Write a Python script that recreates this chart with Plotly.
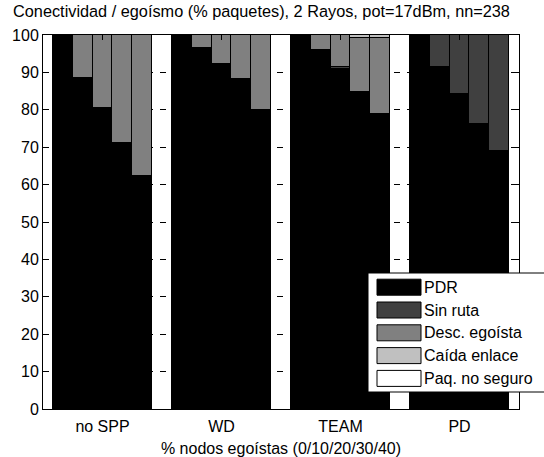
import plotly.graph_objects as go

groups = ["no SPP", "WD", "TEAM", "PD"]
levels = ["0", "10", "20", "30", "40"]
series_names = ["PDR", "Sin ruta", "Desc. egoísta", "Caída enlace", "Paq. no seguro"]
series_colors = ["#000000", "#404040", "#808080", "#c0c0c0", "#ffffff"]

pdr = [100, 88.6, 80.4, 71.1, 62.3,
       100, 96.6, 92.2, 88.2, 79.9,
       100, 95.8, 91.0, 84.7, 78.8,
       100, 91.4, 84.2, 76.2, 69.0]
sin_ruta = [0, 0, 0, 0, 0,
            0, 0, 0, 0, 0,
            0, 0.3, 0.5, 0, 0,
            0, 8.6, 15.8, 23.8, 31.0]
desc_egoista = [0, 11.4, 19.6, 28.9, 37.7,
                0, 3.4, 7.8, 11.8, 20.1,
                0, 3.9, 8.5, 14.5, 20.4,
                0, 0, 0, 0, 0]
caida_enlace = [0, 0, 0, 0, 0,
                0, 0, 0, 0, 0,
                0, 0, 0, 0.8, 0.8,
                0, 0, 0, 0, 0]
paq_no_seguro = [0, 0, 0, 0, 0,
                 0, 0, 0, 0, 0,
                 0, 0, 0, 0, 0,
                 0, 0, 0, 0, 0]

yticks = [0, 10, 20, 30, 40, 50, 60, 70, 80, 90, 100]

series = [pdr, sin_ruta, desc_egoista, caida_enlace, paq_no_seguro]

# bar positions: 5 bars per group, one empty slot between groups
xpos = [6 * g + j + 1 for g in range(len(groups)) for j in range(len(levels))]
group_centers = [6 * g + 3 for g in range(len(groups))]

FONT = "Liberation Sans, Arial, sans-serif"

fig = go.Figure()
for name, vals, col in zip(series_names, series, series_colors):
    fig.add_trace(go.Bar(
        x=xpos, y=vals, name=name, width=1,
        marker=dict(color=col, line=dict(color="black", width=1)),
        showlegend=False, hoverinfo="skip",
    ))

W, H = 544, 457
L, R, T, B = 43, 519, 35, 409

def px(x):
    return (x - L) / (R - L)

def py(y):
    return (B - y) / (B - T)

# MATLAB-style legend box (runs off the right edge, as in the reference)
shapes = [dict(type="rect", xref="paper", yref="paper",
               x0=px(368), x1=px(550), y0=py(392), y1=py(273),
               fillcolor="white", line=dict(color="black", width=1))]
annotations = []
for i, (name, col) in enumerate(zip(series_names, series_colors)):
    cy = 287.2 + 22.8 * i
    shapes.append(dict(type="rect", xref="paper", yref="paper",
                       x0=px(377), x1=px(421), y0=py(cy + 8), y1=py(cy - 8),
                       fillcolor=col, line=dict(color="black", width=1)))
    annotations.append(dict(xref="paper", yref="paper", x=px(423), y=py(cy),
                            xanchor="left", yanchor="middle", text=name,
                            showarrow=False, borderpad=0,
                            font=dict(family=FONT, size=16, color="black")))

fig.update_layout(
    width=W, height=H,
    margin=dict(l=L, r=W - R, t=T, b=H - B, pad=0, autoexpand=False),
    paper_bgcolor="white", plot_bgcolor="white",
    barmode="stack", bargap=0,
    font=dict(family=FONT, size=16, color="black"),
    title=dict(text="Conectividad / egoísmo (% paquetes), 2 Rayos, pot=17dBm, nn=238",
               xref="paper", x=px(261.5), xanchor="center",
               yref="container", y=1 - 11 / H, yanchor="middle",
               font=dict(family=FONT, size=16.3, color="black")),
    shapes=shapes,
    annotations=annotations,
    xaxis=dict(range=[0, 24], tickvals=group_centers, ticktext=groups,
               ticks="inside", ticklen=5, tickcolor="black",
               showline=True, linecolor="black", linewidth=1, mirror="ticks",
               showgrid=False, zeroline=False, ticklabelstandoff=3,
               automargin=False,
               title=dict(text="% nodos egoístas (0/10/20/30/40)", standoff=8,
                          font=dict(family=FONT, size=16, color="black")),
               tickfont=dict(family=FONT, size=16, color="black")),
    yaxis=dict(range=[0, 100], tickvals=yticks,
               ticks="inside", ticklen=5, tickcolor="black",
               showline=True, linecolor="black", linewidth=1, mirror="ticks",
               showgrid=True, gridcolor="black", gridwidth=1, griddash="6px,7px",
               zeroline=False, automargin=False,
               tickfont=dict(family=FONT, size=16, color="black")),
)

fig.write_html("out.html", config={"displayModeBar": False},
               post_script="document.body.style.margin='0px';")
